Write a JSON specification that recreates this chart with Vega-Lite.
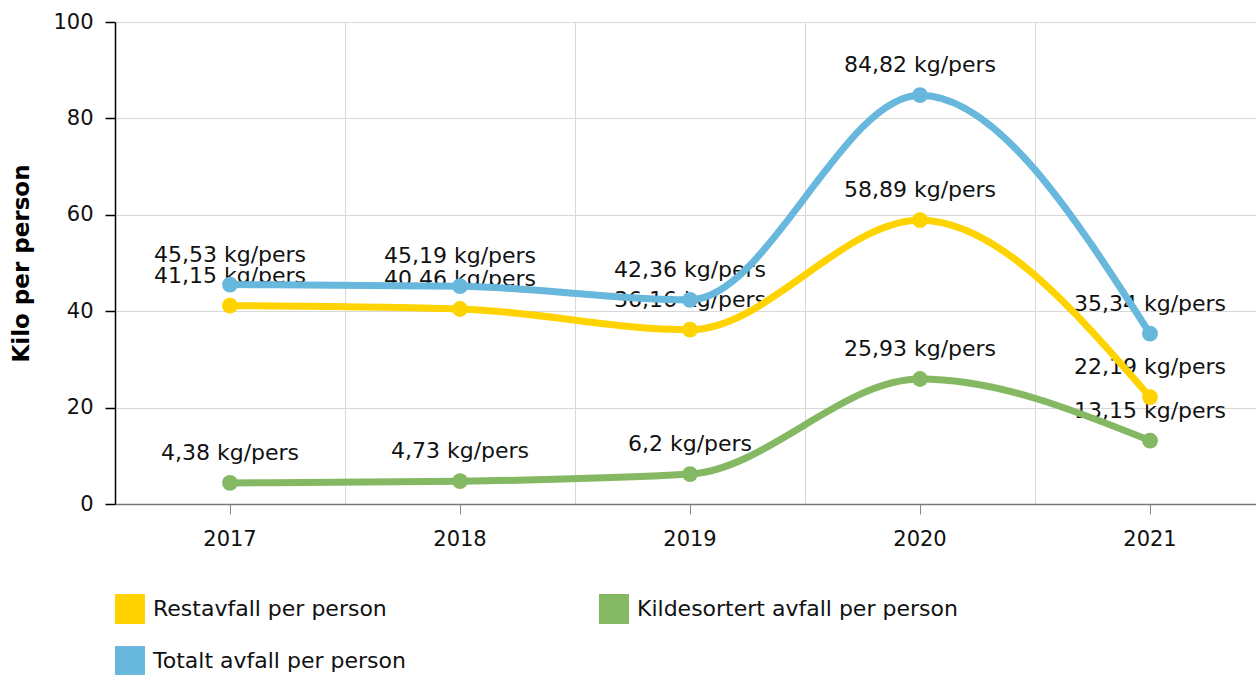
{
  "$schema": "https://vega.github.io/schema/vega-lite/v6.json",
  "autosize": {"type": "none"},
  "padding": {"left": 115, "top": 22, "right": 0, "bottom": 171},
  "width": 1141,
  "height": 482,
  "background": "white",
  "config": {
    "font": "DejaVu Sans",
    "view": {"stroke": null},
    "locale": {"number": {"decimal": ",", "thousands": " ", "grouping": [3], "currency": ["", " kr"]}}
  },
  "data": {
    "values": [
      {"year": "2017", "series": "Restavfall per person", "value": 41.15},
      {"year": "2018", "series": "Restavfall per person", "value": 40.46},
      {"year": "2019", "series": "Restavfall per person", "value": 36.16},
      {"year": "2020", "series": "Restavfall per person", "value": 58.89},
      {"year": "2021", "series": "Restavfall per person", "value": 22.19},
      {"year": "2017", "series": "Kildesortert avfall per person", "value": 4.38},
      {"year": "2018", "series": "Kildesortert avfall per person", "value": 4.73},
      {"year": "2019", "series": "Kildesortert avfall per person", "value": 6.2},
      {"year": "2020", "series": "Kildesortert avfall per person", "value": 25.93},
      {"year": "2021", "series": "Kildesortert avfall per person", "value": 13.15},
      {"year": "2017", "series": "Totalt avfall per person", "value": 45.53},
      {"year": "2018", "series": "Totalt avfall per person", "value": 45.19},
      {"year": "2019", "series": "Totalt avfall per person", "value": 42.36},
      {"year": "2020", "series": "Totalt avfall per person", "value": 84.82},
      {"year": "2021", "series": "Totalt avfall per person", "value": 35.34}
    ]
  },
  "transform": [
    {"calculate": "replace(format(datum.value, '.2~f'), '.', ',') + ' kg/pers'", "as": "label"}
  ],
  "encoding": {
    "x": {
      "field": "year",
      "type": "ordinal",
      "scale": {"range": [0, 1150], "paddingInner": 0, "paddingOuter": 0}
    },
    "y": {
      "field": "value",
      "type": "quantitative",
      "scale": {"domain": [0, 100], "nice": false}
    },
    "color": {
      "field": "series",
      "type": "nominal",
      "scale": {
        "domain": ["Restavfall per person", "Kildesortert avfall per person", "Totalt avfall per person"],
        "range": ["#FFD300", "#84B863", "#68B7DC"]
      }
    }
  },
  "layer": [
    {
      "mark": {"type": "text", "dy": -30, "fontSize": 22, "color": "#111", "baseline": "middle"},
      "encoding": {
        "x": {
          "field": "year", "type": "ordinal",
          "axis": {
            "orient": "bottom",
            "title": null, "grid": true, "tickBand": "extent", "gridColor": "#d8d8d8", "gridWidth": 1,
            "ticks": false, "labels": false, "domain": false
          }
        },
        "y": {
          "field": "value", "type": "quantitative",
          "axis": {
            "title": "Kilo per person", "titleFontSize": 23, "titleFontWeight": "bold", "titleColor": "#000",
            "titlePadding": 19,
            "values": [0, 20, 40, 60, 80, 100],
            "labelFontSize": 21, "labelColor": "#111", "labelPadding": 12,
            "tickSize": 10, "tickColor": "#000", "tickWidth": 1.5,
            "domainColor": "#000", "domainWidth": 1.5,
            "gridColor": "#d8d8d8", "gridWidth": 1
          }
        },
        "text": {"field": "label"},
        "color": {"value": "#111"}
      }
    },
    {
      "mark": {"type": "line", "interpolate": "monotone", "strokeWidth": 7},
      "encoding": {
        "x": {"field": "year", "type": "ordinal", "axis": null}
      }
    },
    {
      "mark": {"type": "point", "filled": true, "opacity": 1, "size": 250, "shape": "circle"},
      "encoding": {
        "x": {
          "field": "year", "type": "ordinal",
          "axis": {
            "orient": "bottom",
            "title": null, "grid": false, "labelAngle": 0, "labelFontSize": 21, "labelColor": "#111",
            "labelPadding": 14, "tickSize": 10, "tickColor": "#888", "domainColor": "#777", "domainWidth": 1.5
          }
        },
        "color": {
          "field": "series", "type": "nominal",
          "legend": {
            "title": null, "orient": "none", "legendX": 0, "legendY": 572,
            "direction": "horizontal", "columns": 2,
            "symbolType": "square", "symbolSize": 900, "symbolStrokeWidth": 0, "symbolOpacity": 1,
            "labelFontSize": 22, "labelColor": "#111", "labelOffset": 8, "labelLimit": 500,
            "columnPadding": 193, "rowPadding": 22
          }
        }
      }
    }
  ],
  "resolve": {"axis": {"x": "independent"}}
}
